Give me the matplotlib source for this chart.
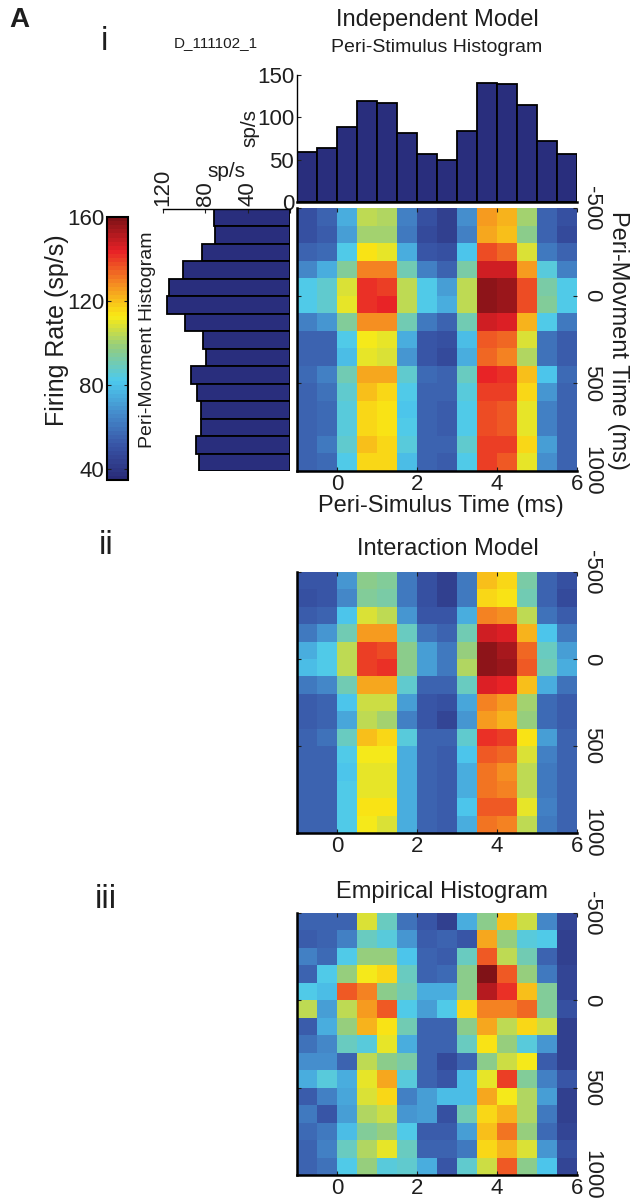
import numpy as np
import matplotlib

matplotlib.use("Agg")
import matplotlib.pyplot as plt  # noqa: E402
from matplotlib.colors import LinearSegmentedColormap, Normalize  # noqa: E402

plt.rcParams.update({
    "font.family": ["Liberation Sans", "DejaVu Sans"],
    "font.size": 14,
    "axes.unicode_minus": False,
    "text.color": "#1e1e1e",
    "axes.labelcolor": "#1e1e1e",
    "xtick.color": "#1e1e1e",
    "ytick.color": "#1e1e1e",
})

W, H = 633, 1202

# ---- data -----------------------------------------------------------------
stim_edges = np.linspace(-1, 6, 15)        # peri-stimulus time (ms), 0.5 ms bins
move_edges = np.linspace(-500, 1000, 16)   # peri-movement time (ms), 100 ms bins
stim_ticks = [0, 2, 4, 6]
move_ticks = [-500, 0, 500, 1000]

psth = [59, 64, 88, 119, 117, 82, 57, 50, 84, 141, 139, 114, 72, 57]
move_hist = [72, 71, 83, 101, 114, 116, 99, 82, 79, 94, 88, 84, 84, 89, 86]

indep = [
    [50, 55, 76, 104, 102, 64, 50, 44, 68, 126, 122, 100, 56, 50],
    [50, 54, 72, 100, 100, 62, 48, 44, 64, 124, 120, 96, 56, 48],
    [55, 58, 82, 114, 111, 76, 52, 50, 80, 138, 133, 108, 62, 55],
    [66, 76, 94, 130, 130, 90, 64, 56, 92, 148, 148, 126, 84, 64],
    [82, 86, 108, 142, 140, 104, 82, 72, 104, 158, 155, 138, 92, 82],
    [82, 86, 110, 142, 143, 104, 82, 76, 104, 158, 156, 138, 94, 82],
    [64, 70, 94, 128, 128, 90, 62, 56, 90, 147, 146, 122, 82, 62],
    [55, 55, 82, 112, 110, 76, 52, 50, 78, 135, 134, 108, 60, 54],
    [55, 55, 78, 110, 108, 70, 52, 48, 76, 134, 130, 102, 60, 54],
    [58, 64, 90, 124, 124, 86, 58, 55, 88, 144, 142, 120, 80, 58],
    [56, 60, 86, 120, 117, 82, 56, 55, 84, 140, 139, 116, 70, 56],
    [55, 58, 84, 116, 114, 80, 55, 54, 82, 137, 136, 110, 64, 55],
    [55, 58, 84, 116, 114, 82, 55, 54, 82, 137, 136, 110, 64, 55],
    [56, 62, 86, 120, 117, 84, 56, 55, 86, 140, 140, 116, 72, 56],
    [55, 58, 82, 116, 116, 78, 55, 54, 82, 140, 136, 110, 68, 55],
]

interact = [
    [52, 52, 70, 96, 94, 62, 50, 44, 62, 120, 116, 92, 56, 50],
    [50, 52, 66, 94, 92, 62, 50, 44, 62, 116, 115, 90, 56, 48],
    [54, 55, 80, 108, 104, 70, 52, 52, 76, 130, 128, 104, 60, 54],
    [62, 70, 90, 126, 126, 88, 60, 56, 90, 147, 146, 122, 80, 62],
    [76, 82, 104, 140, 138, 96, 72, 62, 98, 158, 154, 134, 88, 72],
    [78, 82, 104, 140, 141, 96, 72, 62, 102, 158, 156, 136, 90, 76],
    [62, 66, 90, 124, 124, 86, 56, 55, 88, 146, 144, 120, 76, 60],
    [54, 55, 80, 106, 106, 72, 52, 50, 74, 130, 126, 100, 58, 54],
    [54, 55, 74, 104, 100, 64, 52, 46, 70, 126, 122, 98, 58, 54],
    [56, 60, 88, 120, 116, 84, 56, 55, 86, 141, 139, 114, 72, 56],
    [55, 56, 82, 112, 112, 76, 55, 54, 80, 136, 134, 108, 64, 55],
    [55, 56, 80, 110, 110, 76, 55, 54, 76, 132, 128, 104, 62, 55],
    [55, 56, 82, 110, 110, 76, 55, 54, 76, 132, 130, 104, 62, 55],
    [55, 56, 82, 114, 114, 76, 55, 54, 80, 136, 136, 110, 64, 55],
    [55, 56, 82, 112, 108, 76, 55, 54, 76, 132, 130, 104, 62, 55],
]

empir = [
    [55, 55, 56, 108, 88, 60, 52, 44, 76, 96, 120, 106, 66, 46],
    [54, 55, 64, 88, 84, 70, 54, 56, 52, 124, 98, 84, 82, 44],
    [64, 58, 82, 98, 98, 80, 56, 54, 88, 136, 104, 90, 56, 44],
    [56, 82, 98, 112, 116, 88, 56, 58, 96, 160, 136, 98, 62, 46],
    [82, 78, 136, 130, 96, 90, 76, 76, 96, 152, 142, 120, 94, 46],
    [104, 72, 104, 126, 136, 82, 72, 82, 116, 130, 130, 134, 94, 50],
    [54, 76, 98, 122, 114, 90, 56, 56, 96, 124, 104, 116, 106, 44],
    [60, 66, 88, 84, 110, 76, 55, 56, 88, 114, 98, 84, 70, 44],
    [68, 68, 56, 104, 96, 92, 56, 48, 56, 96, 106, 112, 54, 44],
    [76, 84, 76, 110, 124, 84, 56, 52, 78, 110, 140, 94, 64, 52],
    [54, 64, 74, 108, 117, 64, 72, 78, 78, 124, 112, 102, 72, 44],
    [62, 52, 72, 102, 106, 70, 72, 50, 90, 116, 122, 102, 62, 44],
    [58, 62, 78, 94, 98, 82, 54, 54, 72, 120, 132, 98, 58, 46],
    [56, 64, 88, 102, 110, 88, 56, 55, 62, 117, 122, 108, 70, 50],
    [55, 60, 82, 98, 84, 86, 76, 52, 86, 106, 136, 96, 80, 46],
]

cbar_ticks = [40, 80, 120, 160]

# jet, toned down the way it looks in the printed figure
jet_print = LinearSegmentedColormap.from_list("jet_print", [
    (0.000, (0.16, 0.17, 0.47)),
    (0.125, (0.22, 0.33, 0.65)),
    (0.250, (0.27, 0.55, 0.80)),
    (0.375, (0.30, 0.79, 0.93)),
    (0.500, (0.56, 0.80, 0.52)),
    (0.625, (0.98, 0.92, 0.08)),
    (0.750, (0.96, 0.55, 0.13)),
    (0.875, (0.91, 0.13, 0.15)),
    (1.000, (0.50, 0.07, 0.09)),
], N=64)
norm = Normalize(35, 160)
NAVY = (0.16, 0.18, 0.49)


def box(l, t, r, b):
    return [l / W, 1 - b / H, (r - l) / W, (b - t) / H]


def px(x, y):
    return x / W, 1 - y / H


def heatmap(ax, grid):
    mesh = ax.pcolormesh(stim_edges, move_edges, np.array(grid),
                         cmap=jet_print, norm=norm, shading="flat")
    ax.set_xlim(stim_edges[0], stim_edges[-1])
    ax.set_ylim(move_edges[-1], move_edges[0])
    ax.set_xticks(stim_ticks)
    ax.set_yticks(move_ticks)
    for side in ("top", "right"):
        ax.spines[side].set_visible(False)
    for side in ("left", "bottom"):
        ax.spines[side].set_linewidth(1.8)
    ax.tick_params(direction="in", length=3, width=0.8, labelsize=16,
                   top=True, right=True, left=True, bottom=True)
    ax.tick_params(axis="x", pad=2)
    ax.tick_params(axis="y", labelleft=False, labelright=True,
                   labelrotation=-90, pad=3)
    for lbl in ax.get_yticklabels():
        lbl.set_va("center")
    return mesh


fig = plt.figure(figsize=(W / 100, H / 100), dpi=100)

# ---- panel i ---------------------------------------------------------------
ax_i = fig.add_axes(box(297, 208, 577, 471))
mesh = heatmap(ax_i, indep)

ax_top = fig.add_axes(box(297, 75, 577, 202))
stim_centers = (stim_edges[:-1] + stim_edges[1:]) / 2
ax_top.bar(stim_centers, psth, width=0.5, color=NAVY, edgecolor="black", lw=1.3)
ax_top.set_xlim(stim_edges[0], stim_edges[-1])
ax_top.set_ylim(0, 150)
ax_top.set_yticks([0, 50, 100, 150])
ax_top.set_xticks([])
for side in ("top", "right"):
    ax_top.spines[side].set_visible(False)
ax_top.spines["left"].set_linewidth(1.0)
ax_top.spines["bottom"].set_linewidth(1.8)
ax_top.tick_params(direction="in", length=3, labelsize=16, pad=2)
ax_top.set_ylabel("sp/s", fontsize=15)
ax_top.yaxis.set_label_coords(-0.135, 0.58)

ax_left = fig.add_axes(box(163, 209, 290, 471))
move_centers = (move_edges[:-1] + move_edges[1:]) / 2
ax_left.barh(move_centers, move_hist, height=100, color=NAVY,
             edgecolor="black", lw=1.3)
ax_left.set_xlim(120, 0)
ax_left.set_ylim(move_edges[-1], move_edges[0])
ax_left.set_yticks([])
# the shared "0" is drawn once, by the histogram above
ax_left.set_xticks([120, 80, 40, 0], ["120", "80", "40", ""])
for side in ("bottom", "left", "right"):
    ax_left.spines[side].set_visible(False)
ax_left.spines["top"].set_linewidth(1.0)
ax_left.tick_params(axis="x", direction="in", length=3, labelsize=16,
                    top=True, bottom=False, labeltop=True, labelbottom=False,
                    labelrotation=90, pad=2)
ax_left.text(0.5, 1.145, "sp/s", transform=ax_left.transAxes,
             ha="center", va="center", fontsize=15)

cax = fig.add_axes(box(107, 217, 128, 480))
cb = fig.colorbar(mesh, cax=cax, ticks=cbar_ticks)
cb.outline.set_linewidth(1.5)
cax.tick_params(direction="in", length=3, labelsize=16, left=True, right=True,
                labelleft=True, labelright=False, pad=2)

fig.text(*px(57, 330), "Firing Rate (sp/s)", rotation=90, fontsize=18,
         ha="center", va="center")
fig.text(*px(147, 340), "Peri-Movment Histogram", rotation=90, fontsize=14,
         ha="center", va="center")
fig.text(*px(618, 340), "Peri-Movment Time (ms)", rotation=-90, fontsize=17,
         ha="center", va="center")
fig.text(*px(441, 506), "Peri-Simulus Time (ms)", fontsize=17,
         ha="center", va="center")

fig.text(*px(19, 20), "A", fontsize=20, fontweight="bold", ha="center", va="center")
fig.text(*px(104, 41), "i", fontsize=24, ha="center", va="center")
fig.text(*px(216, 43), "D_111102_1", fontsize=11, ha="center", va="center")
fig.text(*px(437, 20), "Independent Model", fontsize=17, ha="center", va="center")
fig.text(*px(437, 47), "Peri-Stimulus Histogram", fontsize=14,
         ha="center", va="center")

# ---- panel ii --------------------------------------------------------------
ax_ii = fig.add_axes(box(297, 572, 577, 833))
heatmap(ax_ii, interact)
fig.text(*px(448, 549), "Interaction Model", fontsize=17, ha="center", va="center")
fig.text(*px(106, 546), "ii", fontsize=24, ha="center", va="center")

# ---- panel iii -------------------------------------------------------------
ax_iii = fig.add_axes(box(297, 913, 577, 1175))
heatmap(ax_iii, empir)
fig.text(*px(442, 892), "Empirical Histogram", fontsize=17, ha="center", va="center")
fig.text(*px(106, 900), "iii", fontsize=24, ha="center", va="center")

fig.savefig("out.png", dpi=100, facecolor="white")
